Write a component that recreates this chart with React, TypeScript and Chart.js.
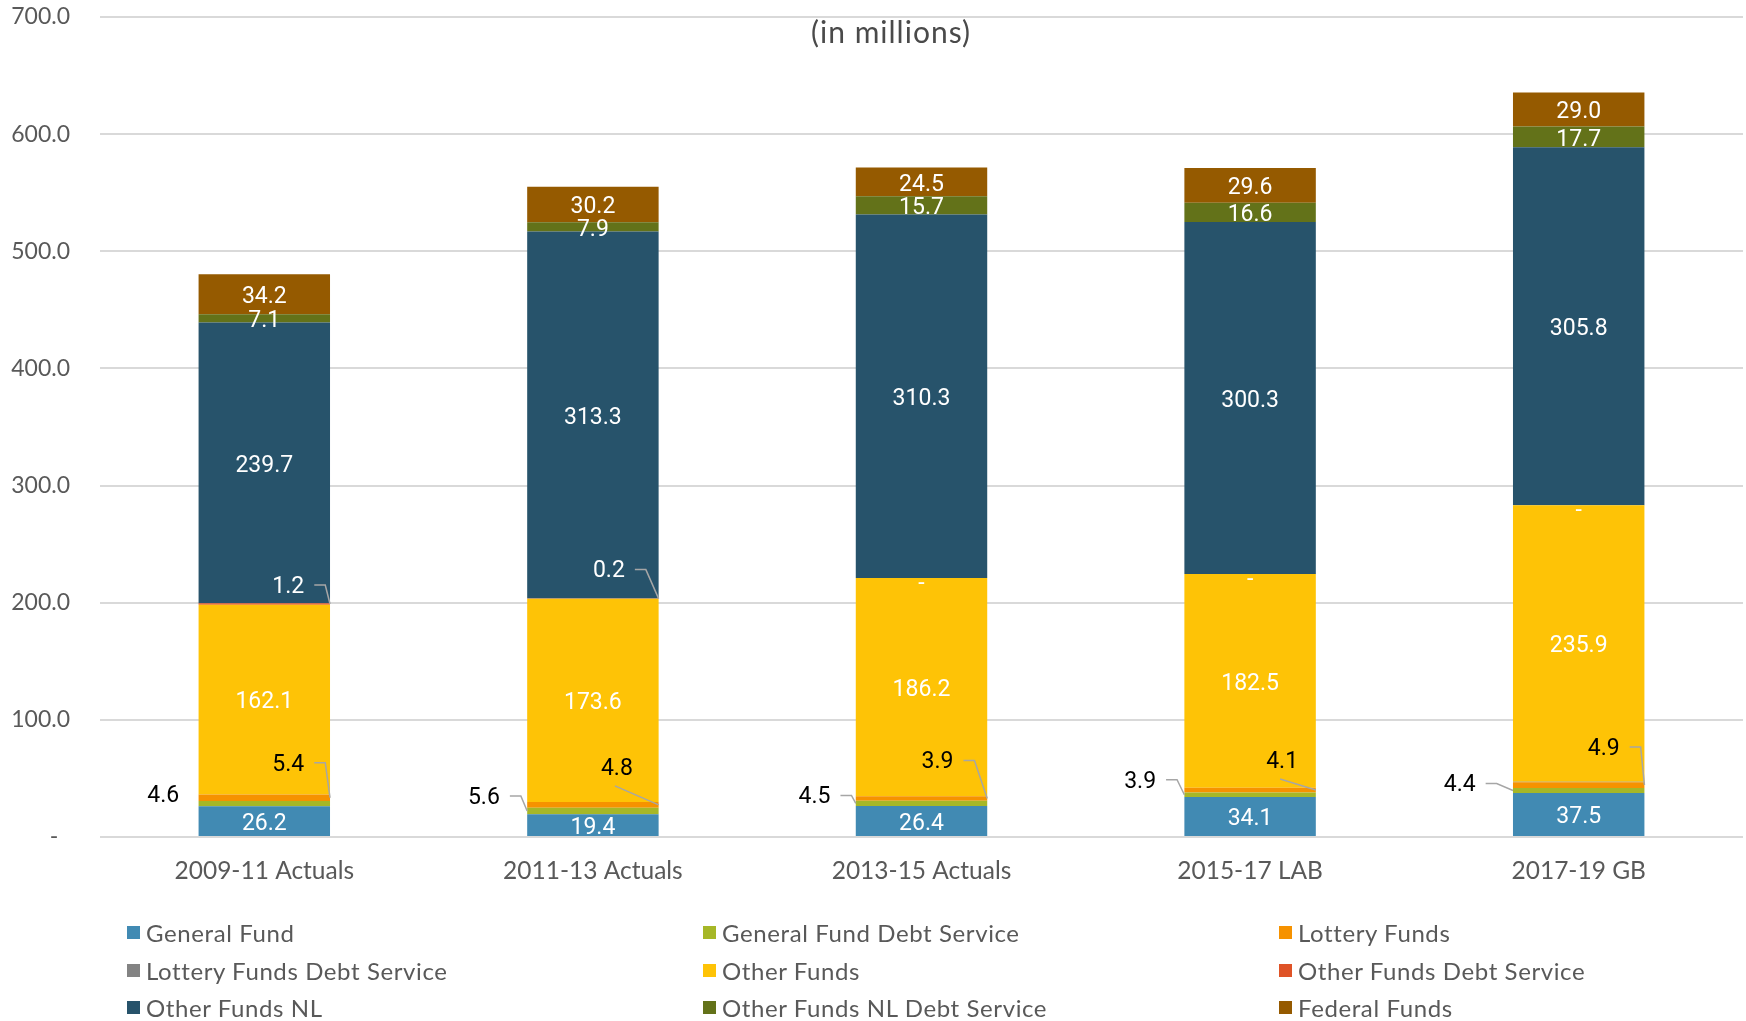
import { useEffect, useRef } from "react";
import { Chart, registerables } from "chart.js";

Chart.register(...registerables);

const categories = [
  "2009-11 Actuals",
  "2011-13 Actuals",
  "2013-15 Actuals",
  "2015-17 LAB",
  "2017-19 GB",
];

const generalFund = [26.2, 19.4, 26.4, 34.1, 37.5];
const generalFundDebt = [4.6, 5.6, 4.5, 3.9, 4.4];
const lotteryFunds = [5.4, 4.8, 3.9, 4.1, 4.9];
const lotteryFundsDebt = [0, 0, 0, 0, 0.4];
const otherFunds = [162.1, 173.6, 186.2, 182.5, 235.9];
const otherFundsDebt = [1.2, 0.2, 0, 0, 0];
const otherFundsNL = [239.7, 313.3, 310.3, 300.3, 305.8];
const otherFundsNLDebt = [7.1, 7.9, 15.7, 16.6, 17.7];
const federalFunds = [34.2, 30.2, 24.5, 29.6, 29.0];

const yTicks = [0, 100, 200, 300, 400, 500, 600, 700];

const GREY_TEXT = "#595959";
const AXIS_FONT = "Lato, 'Open Sans', sans-serif";
const LABEL_FONT = "Roboto, 'Open Sans', sans-serif";

type Callout = { dx: number; dy: number; leader: "none" | "side" | "below" };

// label placement for the thin segments (pixel offsets from the segment centre)
const gfDebtCallouts: Callout[] = [
  { dx: -101, dy: -10, leader: "none" },
  { dx: -109, dy: -16, leader: "side" },
  { dx: -107, dy: -9, leader: "side" },
  { dx: -110, dy: -16, leader: "side" },
  { dx: -119, dy: -8, leader: "side" },
];
const lotteryCallouts: Callout[] = [
  { dx: 24, dy: -36, leader: "side" },
  { dx: 24, dy: -39, leader: "below" },
  { dx: 16, dy: -39, leader: "side" },
  { dx: 32, dy: -31, leader: "below" },
  { dx: 25, dy: -39, leader: "side" },
];
const ofDebtCallouts: Callout[] = [
  { dx: 24, dy: -20, leader: "side" },
  { dx: 16, dy: -30, leader: "side" },
  { dx: 0, dy: 3, leader: "none" },
  { dx: 0, dy: 3, leader: "none" },
  { dx: 0, dy: 3, leader: "none" },
];

const series = [
  { label: "General Fund", data: generalFund, color: "#418AB3", labelColor: "#ffffff", callouts: null },
  { label: "General Fund Debt Service", data: generalFundDebt, color: "#A6B727", labelColor: "#000000", callouts: gfDebtCallouts },
  { label: "Lottery Funds", data: lotteryFunds, color: "#F69200", labelColor: "#000000", callouts: lotteryCallouts },
  { label: "Lottery Funds Debt Service", data: lotteryFundsDebt, color: "#838383", labelColor: null, callouts: null },
  { label: "Other Funds", data: otherFunds, color: "#FEC306", labelColor: "#ffffff", callouts: null },
  { label: "Other Funds Debt Service", data: otherFundsDebt, color: "#DF5327", labelColor: "#ffffff", callouts: ofDebtCallouts },
  { label: "Other Funds NL", data: otherFundsNL, color: "#27536B", labelColor: "#ffffff", callouts: null },
  { label: "Other Funds NL Debt Service", data: otherFundsNLDebt, color: "#637219", labelColor: "#ffffff", callouts: null },
  { label: "Federal Funds", data: federalFunds, color: "#955A00", labelColor: "#ffffff", callouts: null },
];

const fmt = (v: number) => (v === 0 ? "-" : v.toFixed(1));

const segmentLabels = {
  id: "segmentLabels",
  afterDatasetsDraw(chart: any) {
    const ctx = chart.ctx;
    ctx.save();
    ctx.font = `23px ${LABEL_FONT}`;
    ctx.textAlign = "center";
    ctx.textBaseline = "middle";
    series.forEach((s, d) => {
      if (!s.labelColor) return;
      const meta = chart.getDatasetMeta(d);
      meta.data.forEach((el: any, i: number) => {
        const { x, y, base, width } = el.getProps(["x", "y", "base", "width"], true);
        const segY = (y + base) / 2;
        const c = s.callouts ? s.callouts[i] : null;
        const lx = x + (c ? c.dx : 0);
        const ly = segY + 3 + (c ? c.dy : 0);
        const text = fmt(s.data[i]);
        if (c && c.leader !== "none") {
          const left = c.dx < -width / 2;
          const ex = left ? x - width / 2 : x + width / 2;
          const w = ctx.measureText(text).width;
          ctx.strokeStyle = "#a6a6a6";
          ctx.lineWidth = 1.5;
          ctx.beginPath();
          if (c.leader === "side") {
            ctx.moveTo(lx + w / 2 + 10, ly - 2);
            ctx.lineTo(lx + w / 2 + 21, ly - 2);
          } else {
            ctx.moveTo(lx - 2, ly + 17);
          }
          ctx.lineTo(ex, segY);
          ctx.stroke();
        }
        ctx.fillStyle = s.labelColor;
        ctx.fillText(text, lx, ly);
      });
    });
    ctx.restore();
  },
};

const chartTitle = {
  id: "chartTitle",
  afterDraw(chart: any) {
    const ctx = chart.ctx;
    ctx.save();
    ctx.font = `30px ${AXIS_FONT}`;
    ctx.letterSpacing = "1px";
    ctx.fillStyle = "#4a4a4a";
    ctx.textAlign = "center";
    ctx.textBaseline = "middle";
    ctx.fillText("(in millions)", 891, 33);
    ctx.restore();
  },
};

export default function App() {
  const canvasRef = useRef<HTMLCanvasElement | null>(null);

  useEffect(() => {
    if (canvasRef.current == null) return;
    const chart = new Chart(canvasRef.current, {
      type: "bar",
      data: {
        labels: categories,
        datasets: series.map((s) => ({
          label: s.label,
          data: s.data,
          backgroundColor: s.color,
          borderWidth: 0,
          barPercentage: 0.4,
          categoryPercentage: 1,
        })),
      },
      options: {
        responsive: false,
        animation: false,
        layout: { padding: { left: 0, right: 3, top: 17, bottom: 0 } },
        plugins: {
          legend: { display: false },
          tooltip: { enabled: false },
        },
        scales: {
          x: {
            stacked: true,
            grid: { display: false },
            border: { display: false },
            ticks: {
              color: GREY_TEXT,
              font: { family: AXIS_FONT, size: 24.5 },
              padding: 11,
            },
            afterFit: (scale: any) => {
              scale.height = 184;
            },
          },
          y: {
            stacked: true,
            min: yTicks[0],
            max: yTicks[yTicks.length - 1],
            grid: { color: "#d9d9d9", lineWidth: 2, drawTicks: false },
            border: { display: false },
            afterBuildTicks: (scale: any) => {
              scale.ticks = yTicks.map((v) => ({ value: v }));
            },
            ticks: {
              color: GREY_TEXT,
              font: { family: AXIS_FONT, size: 23 },
              padding: 30,
              callback: (v: any) => (Number(v) === 0 ? "-  " : Number(v).toFixed(1)),
            },
            afterFit: (scale: any) => {
              scale.width = 100;
              scale.paddingTop = 0;
              scale.paddingBottom = 0;
            },
          },
        },
      },
      plugins: [segmentLabels, chartTitle],
    });
    return () => {
      chart.destroy();
    };
  }, []);

  return (
    <div style={{ position: "absolute", left: 0, top: 0, width: 1746, height: 1021, background: "#fff" }}>
      <canvas ref={canvasRef} width={1746} height={1021} style={{ display: "block" }}></canvas>
      <div
        style={{
          position: "absolute",
          left: 127,
          top: 914,
          display: "grid",
          gridTemplateColumns: "576px 576px 576px",
          gridAutoRows: "37.5px",
          fontFamily: AXIS_FONT,
          fontSize: 24,
          letterSpacing: "0.6px",
          color: GREY_TEXT,
        }}
      >
        {series.map((s) => (
          <div key={s.label} style={{ display: "flex", alignItems: "center", whiteSpace: "nowrap" }}>
            <span style={{ width: 13, height: 13, background: s.color, marginRight: 6, flexShrink: 0 }}></span>
            <span>{s.label}</span>
          </div>
        ))}
      </div>
    </div>
  );
}
